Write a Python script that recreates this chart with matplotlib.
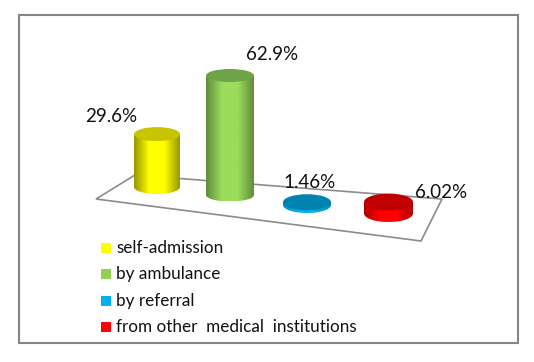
import numpy as np
import matplotlib
matplotlib.use("Agg")
import matplotlib.pyplot as plt
from matplotlib.colors import LinearSegmentedColormap
from matplotlib.patches import Ellipse, PathPatch, Polygon, Rectangle
from matplotlib.path import Path

plt.rcParams['font.family'] = ['Lato', 'DejaVu Sans']

# Data
categories = ["self-admission", "by ambulance", "by referral", "from other  medical  institutions"]
values = [29.6, 62.9, 1.46, 6.02]
value_labels = ["29.6%", "62.9%", "1.46%", "6.02%"]

# Styles
legend_colors = ["#ffff00", "#92d050", "#00b0f0", "#ff0000"]
top_colors = ["#c8c400", "#6fa347", "#0083b0", "#c00000"]
edge_colors = ["#9a9700", "#5f8f3a", "#0090c0", "#b00000"]
mid_colors = ["#ffff00", "#9bdc5c", "#00b0f0", "#ff0000"]

# Layout, in picture pixels
centers = [157, 230, 307, 388.5]
base_y = [187, 195, 205, 213.5]
widths = [46, 48, 48, 49]
radii_y = [7, 6.5, 8, 8.5]
depth_scale = [0.94, 1.0, 1.0, 1.0]
px_per_unit = 1.9
label_pos = [(111, 117), (272, 55), (310, 183), (441, 192)]
legend_y = [248, 274, 301, 327]
floor = [(96, 199), (135, 175), (442, 199), (421, 241)]

fig = plt.figure(figsize=(5.34, 3.62), dpi=100)
ax = fig.add_axes([0, 0, 1, 1])

# outer frame
ax.add_patch(Rectangle((19, 15), 498.7, 328, fill=False, ec="#868686", lw=1.5, zorder=1))
# floor of the 3d chart
ax.add_patch(Polygon(floor, closed=True, fill=False, ec="#8c8c8c", lw=1.2, zorder=1))


def cylinder(i):
    cx, w, ry = centers[i], widths[i], radii_y[i]
    bottom = base_y[i]
    top = bottom - values[i] * px_per_unit * depth_scale[i]
    left, right = cx - w / 2, cx + w / 2
    # body: straight sides plus the lower half of the base ellipse
    arc = np.linspace(np.pi, 0, 40)
    xs = [left] + list(cx + np.cos(arc) * w / 2) + [right, left]
    ys = [top] + list(bottom + np.sin(arc) * ry) + [top, top]
    body = PathPatch(Path(np.column_stack([xs, ys])), fc="none", ec="none", transform=ax.transData)
    ax.add_patch(body)
    cmap = LinearSegmentedColormap.from_list(
        "c", [edge_colors[i], mid_colors[i], mid_colors[i], edge_colors[i]])
    grad = np.linspace(0, 1, 64).reshape(1, -1)
    im = ax.imshow(grad, cmap=cmap, aspect="auto", zorder=2,
                   extent=(left, right, bottom + ry, top))
    im.set_clip_path(body)
    ax.add_patch(Ellipse((cx, top), w, ry * 2, fc=top_colors[i], ec="none", zorder=3))


for i in range(len(values)):
    cylinder(i)
    ax.text(label_pos[i][0], label_pos[i][1], value_labels[i], fontsize=13.5, color="#111111",
            ha="center", va="center", zorder=5)
    ax.add_patch(Rectangle((101, legend_y[i] - 5), 10, 10, fc=legend_colors[i], ec="none", zorder=4))
    ax.text(116, legend_y[i], categories[i], fontsize=12.3, color="#111111",
            ha="left", va="center", zorder=5)

ax.set_xlim(0, 534)
ax.set_ylim(362, 0)
ax.axis("off")
fig.savefig("out.png", dpi=100, facecolor="white")
